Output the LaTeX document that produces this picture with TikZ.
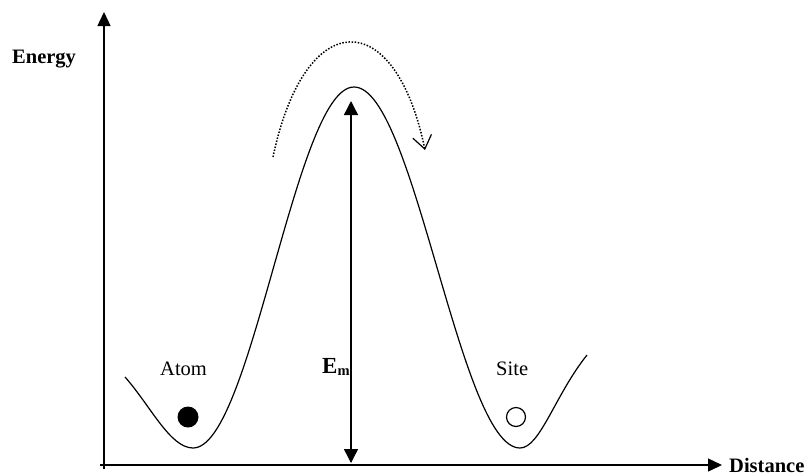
\documentclass[tikz,border=0pt]{standalone}
\usepackage{fontspec}
\setmainfont{Liberation Serif}
\usetikzlibrary{arrows.meta}
\begin{document}
\begin{tikzpicture}[x=1pt,y=-1pt,
  axis/.style={line width=1.4pt,-{Triangle[length=14pt,width=13pt]}},
  curve/.style={line width=1.2pt,line join=round},
  emarrow/.style={line width=1.4pt,{Triangle[length=14pt,width=14pt]}-{Triangle[length=14pt,width=14pt]}},
  hop/.style={line width=1.5pt,dash pattern=on 1.5pt off 1.6pt,-{Straight Barb[length=13pt,width=19pt,line width=1.2pt]}},
  lbl/.style={font=\fontsize{20.5}{22}\selectfont,inner sep=0pt},
  blbl/.style={lbl,font=\fontsize{20.5}{22}\selectfont\bfseries}]
\useasboundingbox (0,0) rectangle (810,475);
% axes
\coordinate (vbot) at (104,469);
\coordinate (vtop) at (104,12);
\coordinate (hleft) at (100,465);
\coordinate (hright) at (722,465);
\draw[axis] (vbot) -- (vtop);
\draw[axis] (hleft) -- (hright);
\node[blbl,anchor=base west] (energy) at (12,63) {Energy};
\node[blbl,anchor=base west] (distance) at (729,472) {Distance};
% potential curve
\draw[curve] (125,377) .. controls (150,405) and (170,448) .. (193,448)
  -- plot[domain=193:354,samples=60] (\x,{448-361*(1-cos((\x-193)/161*180))/2})
  -- plot[domain=354:520,samples=60] (\x,{87+361*(1-cos((\x-354)/166*180))/2})
  .. controls (540,448) and (555,395) .. (587,355);
% E_m arrow
\coordinate (embot) at (351,463);
\coordinate (emtop) at (351,101);
\draw[emarrow] (embot) -- (emtop);
\node[anchor=base west,inner sep=0pt] (em) at (322,373)
  {\fontsize{23}{24}\selectfont\bfseries E\raisebox{-2pt}{\fontsize{14.5}{15}\selectfont m}};
% hop arrow
\coordinate (hopstart) at (273,157);
\coordinate (hopend) at (425,150);
\draw[hop] (hopstart) .. controls (305,5) and (395,5) .. (hopend);
% atom and site
\node[lbl,anchor=base west] (atomlbl) at (160,375) {Atom};
\node[lbl,anchor=base west] (sitelbl) at (496,375) {Site};
\node[circle,fill=black,minimum size=21pt,inner sep=0pt] (atom) at (188,417) {};
\node[circle,draw=black,line width=1.2pt,minimum size=19pt,inner sep=0pt] (site) at (516,417) {};
\end{tikzpicture}
\end{document}
